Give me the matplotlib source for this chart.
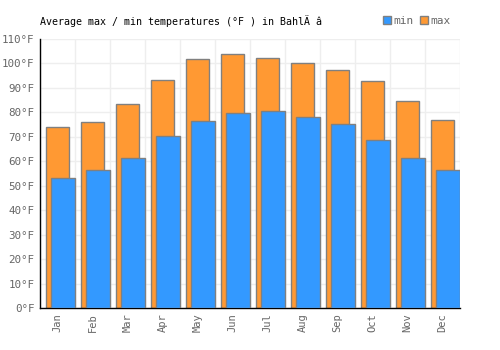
import numpy as np
import matplotlib
matplotlib.use('Agg')
import matplotlib.pyplot as plt
import matplotlib.patches as mpatches

# data
months = ['Jan', 'Feb', 'Mar', 'Apr', 'May', 'Jun', 'Jul', 'Aug', 'Sep', 'Oct', 'Nov', 'Dec']
t_max = [74, 76, 83.4, 93.2, 101.8, 103.8, 102.2, 100.2, 97.2, 92.8, 84.6, 76.8]
t_min = [53, 56.3, 61.2, 70.2, 76.4, 79.7, 80.5, 78.0, 75.2, 68.6, 61.2, 56.3]
y_ticks = list(range(0, 111, 10))

c_min = '#3399ff'
c_max = '#ff9933'
edge = '#808080'
txt = '#666666'

plt.rcParams['font.family'] = 'DejaVu Sans Mono'

fig = plt.figure(figsize=(5, 3.5), dpi=100)
ax = fig.add_axes([0.08, 0.12, 0.84, 0.769])

x = np.arange(len(months))
ax.bar(x + 0.18, t_max, width=0.66, align='edge', color=c_max, edgecolor=edge, linewidth=1, zorder=2)
ax.bar(x + 0.31, t_min, width=0.69, align='edge', color=c_min, edgecolor=edge, linewidth=1, zorder=3)

ax.set_xlim(0, 12)
ax.set_ylim(0, 110)
ax.set_xticks(x + 0.5)
ax.set_xticklabels(months, rotation=90, fontsize=7.5, color=txt)
ax.set_xticks(np.arange(13), minor=True)
ax.set_yticks(y_ticks)
ax.set_yticklabels(['%d°F' % v for v in y_ticks], fontsize=7.8, color=txt)
ax.tick_params(axis='both', which='both', length=0, pad=4)
ax.grid(True, which='minor', axis='x', color='#eeeeee', linewidth=1, zorder=0)
ax.grid(True, which='major', axis='y', color='#eeeeee', linewidth=1, zorder=0)
ax.set_axisbelow(True)
for s in ['top', 'right']:
    ax.spines[s].set_visible(False)
for s in ['left', 'bottom']:
    ax.spines[s].set_color('black')
    ax.spines[s].set_linewidth(1)

fig.text(0.08, 0.94, 'Average max / min temperatures (°F ) in BahlÄ â', fontsize=7.2, color='black', va='center')

handles = [mpatches.Patch(facecolor=c_min, edgecolor=edge, label='min'),
           mpatches.Patch(facecolor=c_max, edgecolor=edge, label='max')]
fig.legend(handles=handles, loc='center right', bbox_to_anchor=(0.91, 0.94), ncol=2, frameon=False,
           fontsize=8, handlelength=0.7, handleheight=0.7, handletextpad=0.2, columnspacing=0.6,
           labelcolor=txt, borderaxespad=0)

fig.savefig('out.png', dpi=100)
